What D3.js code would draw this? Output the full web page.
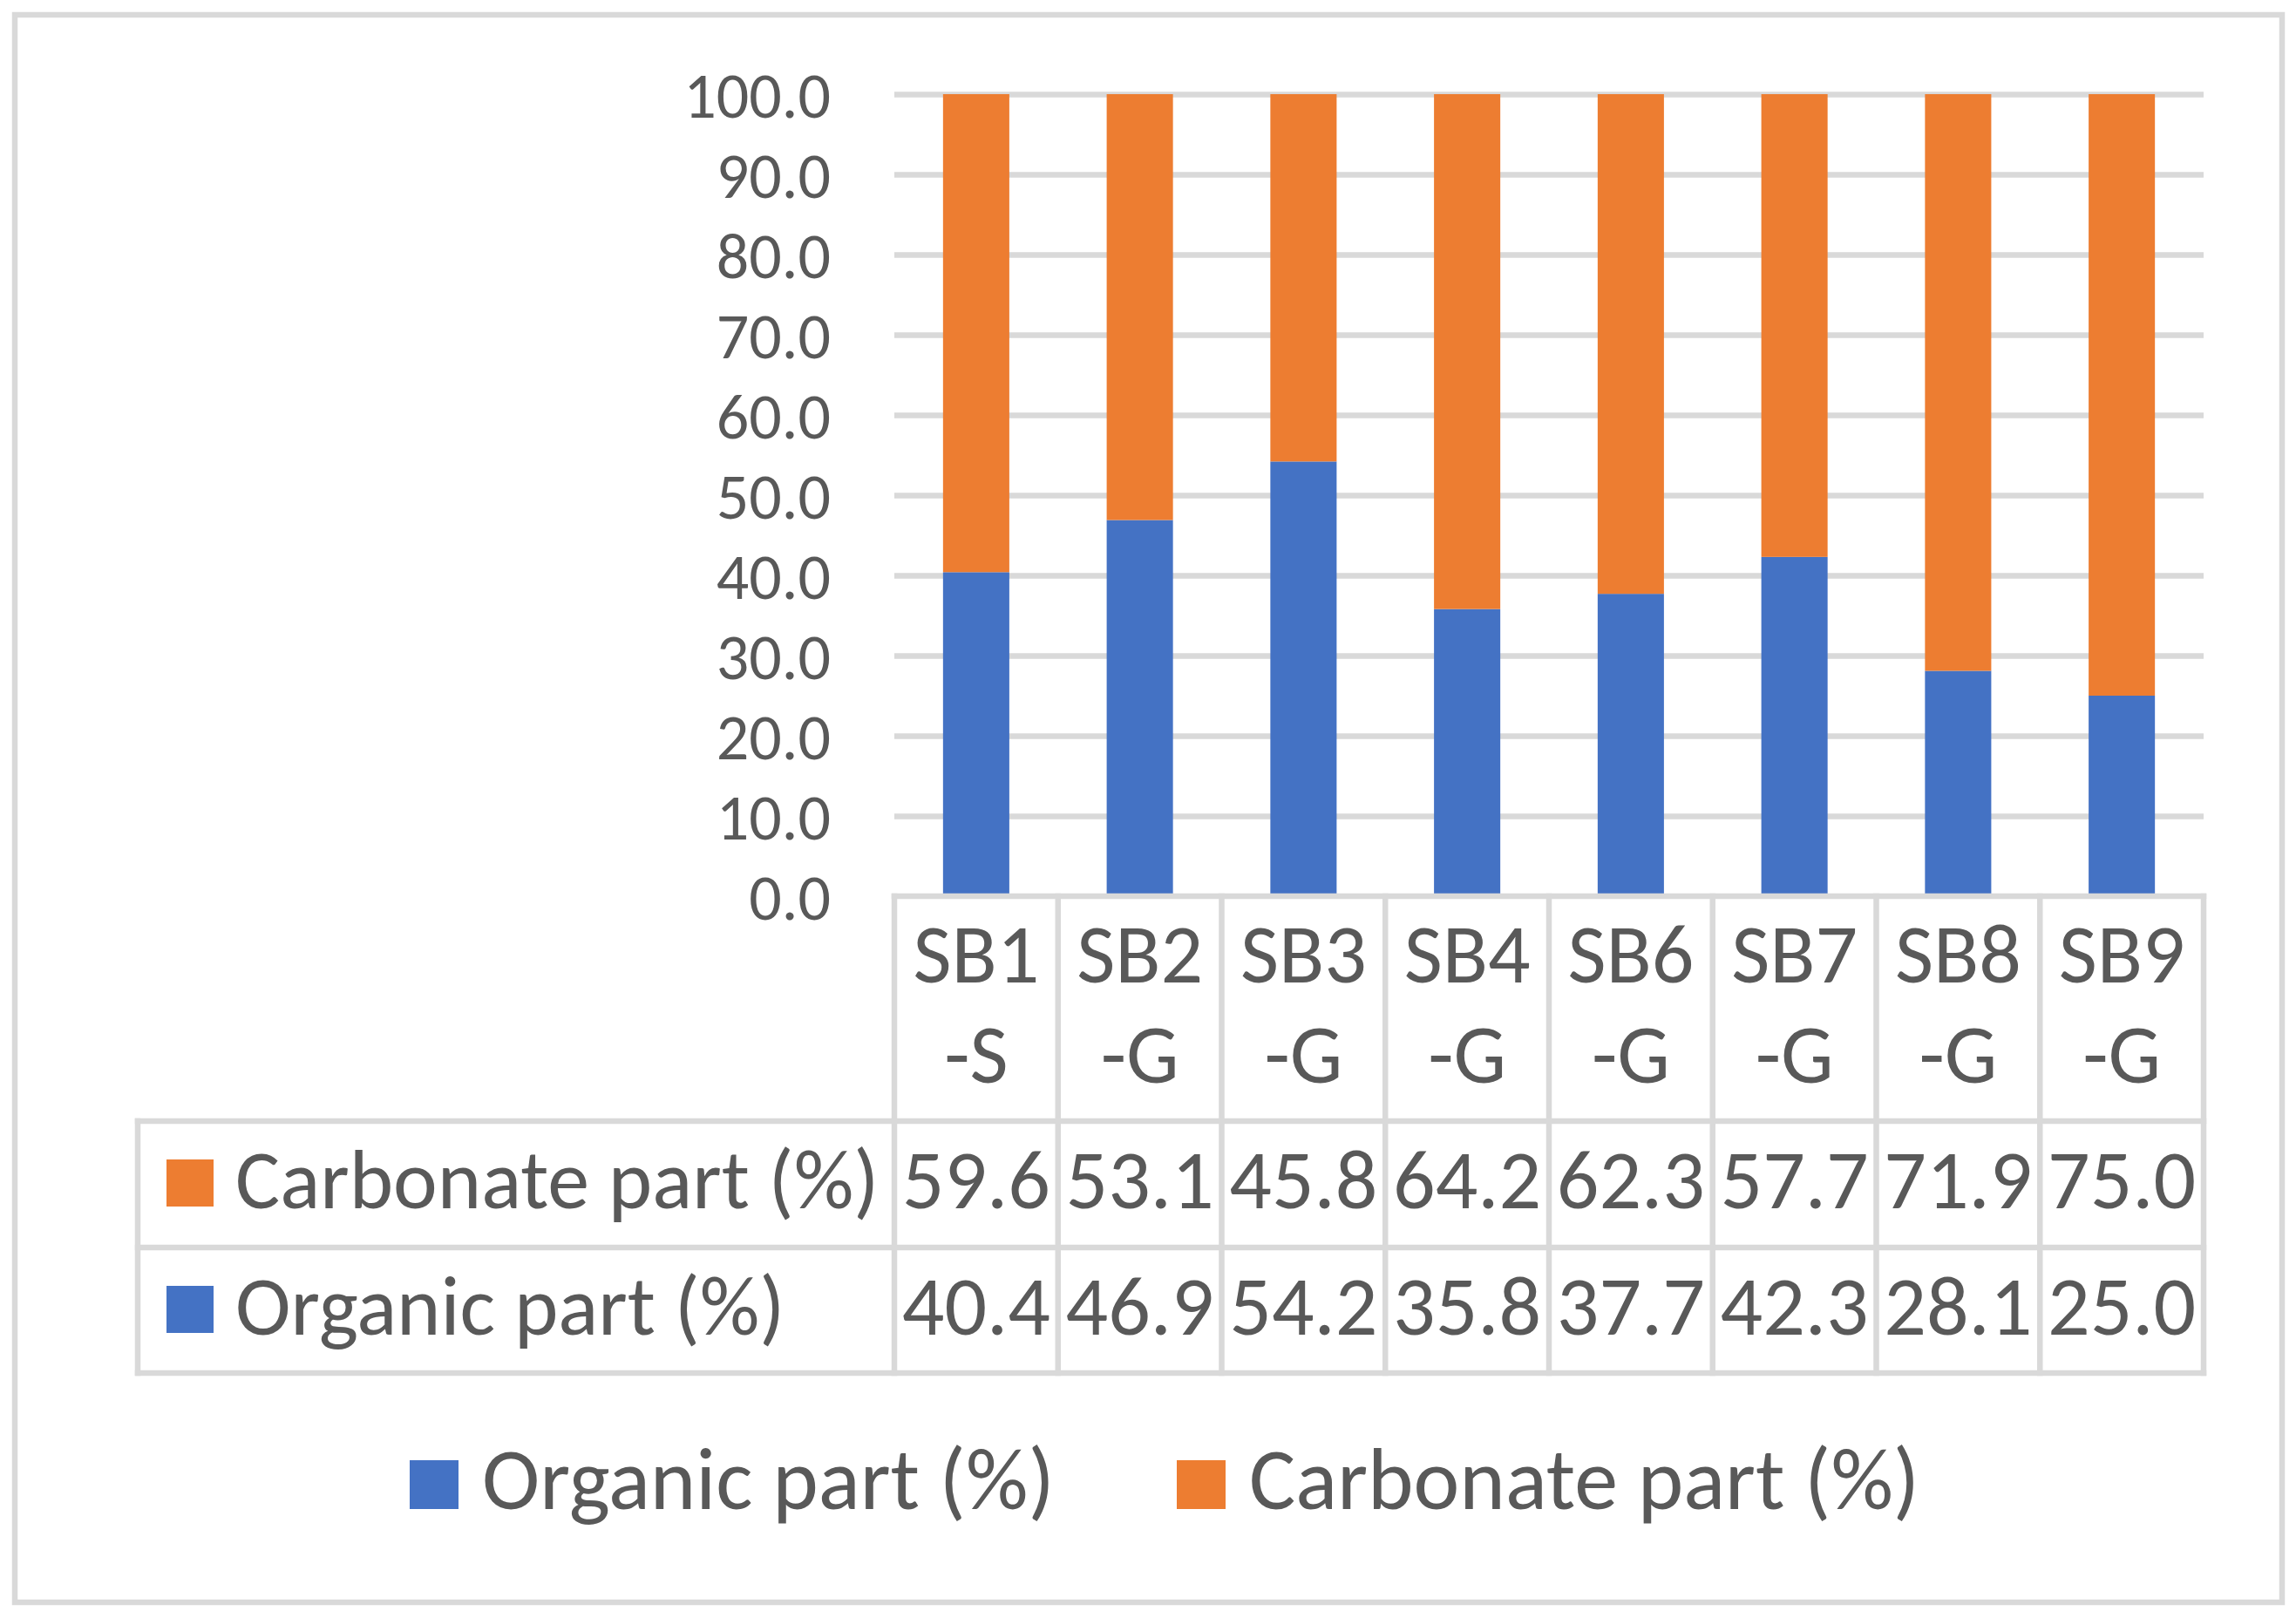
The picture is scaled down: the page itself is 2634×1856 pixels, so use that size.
<!DOCTYPE html>
<html>
<head>
<meta charset="utf-8">
<script src="https://cdn.jsdelivr.net/npm/d3@7"></script>
<style>
	body { margin: 0; background: #fff; }
	text { font-family: Carlito, Lato, sans-serif; fill: #595959; }
</style>
</head>
<body>
<svg id="chart" width="2634" height="1856"></svg>
<script>
	'use strict';
	var categories = ['SB1-S', 'SB2-G', 'SB3-G', 'SB4-G', 'SB6-G', 'SB7-G', 'SB8-G', 'SB9-G'];
	var organic = [40.4, 46.9, 54.2, 35.8, 37.7, 42.3, 28.1, 25.0];
	var carbonate = [59.6, 53.1, 45.8, 64.2, 62.3, 57.7, 71.9, 75.0];
	var yTicks = [0, 10, 20, 30, 40, 50, 60, 70, 80, 90, 100];
	var seriesNames = ['Organic part (%)', 'Carbonate part (%)'];
	var colors = ['#4472C4', '#ED7D31'];

	var svg = d3.select('#chart');
	var grid = '#d9d9d9', lw = 6.5;
	var fs = 96, tickFs = 74, legendFs = 100;
	var plot = { left: 1026, right: 2528, top: 108, bottom: 1028 };
	var table = { left: 158, rowTops: [1286, 1431], bottom: 1575 };

	// outer frame
	svg.append('rect')
		.attr('x', 17).attr('y', 17)
		.attr('width', 2601).attr('height', 1821)
		.attr('fill', 'none').attr('stroke', grid).attr('stroke-width', lw);

	var x = d3.scaleBand()
		.domain(categories)
		.range([plot.left, plot.right])
		.paddingInner(0.595)
		.paddingOuter(0.2975);
	var col = d3.scaleBand()
		.domain(categories)
		.range([plot.left, plot.right]);
	var y = d3.scaleLinear()
		.domain([0, 100])
		.range([plot.bottom, plot.top]);

	// gridlines
	svg.append('g')
		.attr('transform', 'translate(' + plot.left + ',0)')
		.call(d3.axisLeft(y).tickValues(yTicks.slice(1)).tickSize(-(plot.right - plot.left)).tickFormat(''))
		.call(function(g) {
			g.select('.domain').remove();
			g.selectAll('line').attr('stroke', grid).attr('stroke-width', lw);
		});

	// y tick labels
	svg.append('g')
		.attr('transform', 'translate(953,0)')
		.call(d3.axisLeft(y).tickValues(yTicks).tickSize(0).tickPadding(0).tickFormat(d3.format('.1f')))
		.call(function(g) {
			g.select('.domain').remove();
			g.selectAll('text')
				.attr('font-size', tickFs)
				.attr('font-family', null)
				.attr('fill', '#595959')
				.attr('dy', '0.36em');
		});

	// stacked bars
	var rows = categories.map(function(c, i) {
		return { cat: c, organic: organic[i], carbonate: carbonate[i] };
	});
	var stack = d3.stack().keys(['organic', 'carbonate'])(rows);

	svg.append('g').selectAll('g')
		.data(stack)
		.enter().append('g')
		.attr('fill', function(d, i) { return colors[i]; })
		.selectAll('rect')
		.data(function(d) { return d; })
		.enter().append('rect')
		.attr('x', function(d) { return x(d.data.cat); })
		.attr('width', x.bandwidth())
		.attr('y', function(d) { return y(d[1]); })
		.attr('height', function(d) { return y(d[0]) - y(d[1]); });

	// data table lines
	var lines = svg.append('g').attr('stroke', grid).attr('stroke-width', lw).attr('stroke-linecap', 'square');
	lines.append('line')
		.attr('x1', plot.left).attr('x2', plot.right)
		.attr('y1', y(0)).attr('y2', y(0));
	table.rowTops.concat([table.bottom]).forEach(function(yy) {
		lines.append('line')
			.attr('x1', table.left).attr('x2', plot.right)
			.attr('y1', yy).attr('y2', yy);
	});
	lines.append('line')
		.attr('x1', table.left).attr('x2', table.left)
		.attr('y1', table.rowTops[0]).attr('y2', table.bottom);
	categories.concat([null]).forEach(function(c) {
		var xx = c ? col(c) : plot.right;
		lines.append('line')
			.attr('x1', xx).attr('x2', xx)
			.attr('y1', y(0)).attr('y2', table.bottom);
	});

	// category labels (wrapped at the dash)
	var catText = svg.append('g').selectAll('text')
		.data(categories)
		.enter().append('text')
		.attr('text-anchor', 'middle')
		.attr('font-size', fs);
	catText.append('tspan')
		.attr('x', function(d) { return col(d) + col.bandwidth() / 2; })
		.attr('y', 1127)
		.text(function(d) { return d.split('-')[0]; });
	catText.append('tspan')
		.attr('x', function(d) { return col(d) + col.bandwidth() / 2; })
		.attr('y', 1242)
		.text(function(d) { return '-' + d.split('-')[1]; });

	// table rows: carbonate first, organic second
	var tableRows = [
		{ name: seriesNames[1], color: colors[1], values: carbonate, base: 1386 },
		{ name: seriesNames[0], color: colors[0], values: organic, base: 1531 }
	];
	tableRows.forEach(function(r) {
		svg.append('rect')
			.attr('x', 191).attr('y', r.base - 56)
			.attr('width', 54).attr('height', 54)
			.attr('fill', r.color);
		svg.append('text')
			.attr('x', 270).attr('y', r.base)
			.attr('font-size', fs)
			.text(r.name);
		svg.append('g').selectAll('text')
			.data(r.values)
			.enter().append('text')
			.attr('x', function(d, i) { return col(categories[i]) + col.bandwidth() / 2; })
			.attr('y', r.base)
			.attr('text-anchor', 'middle')
			.attr('font-size', fs)
			.text(function(d) { return d3.format('.1f')(d); });
	});

	// legend
	var legendX = [470, 1350];
	var legend = svg.append('g').selectAll('g')
		.data(seriesNames)
		.enter().append('g')
		.attr('transform', function(d, i) { return 'translate(' + legendX[i] + ',1731)'; });
	legend.append('rect')
		.attr('x', 0).attr('y', -56)
		.attr('width', 56).attr('height', 56)
		.attr('fill', function(d, i) { return colors[i]; });
	legend.append('text')
		.attr('x', 83)
		.attr('font-size', legendFs)
		.text(function(d) { return d; });
</script>
</body>
</html>
